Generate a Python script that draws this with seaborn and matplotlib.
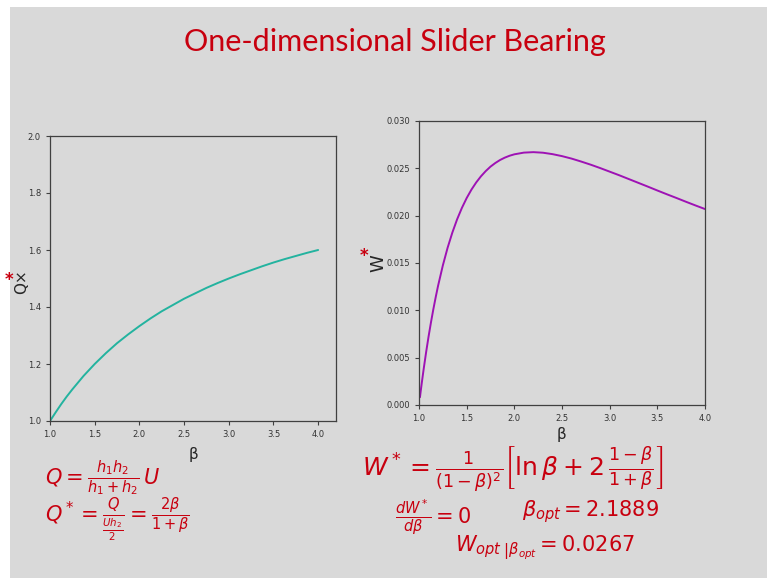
import matplotlib
matplotlib.use("Agg")
import matplotlib.pyplot as plt
import matplotlib.patches as patches
import pandas as pd
import seaborn as sns

# values
beta_q = [1.0, 1.0625, 1.125, 1.1875, 1.25, 1.375, 1.5, 1.625, 1.75, 1.875, 2.0, 2.125, 2.25,
          2.375, 2.5, 2.625, 2.75, 2.875, 3.0, 3.125, 3.25, 3.375, 3.5, 3.625, 3.75, 3.875, 4.0]
q_star = [1.0, 1.030, 1.059, 1.086, 1.111, 1.158, 1.2, 1.238, 1.273, 1.304, 1.333, 1.36, 1.385,
          1.407, 1.429, 1.448, 1.467, 1.484, 1.5, 1.515, 1.529, 1.543, 1.556, 1.568, 1.579,
          1.590, 1.6]

beta_w = [1.01, 1.02, 1.03, 1.04, 1.05, 1.075, 1.1, 1.125, 1.15, 1.175, 1.2, 1.25, 1.3, 1.35,
          1.4, 1.45, 1.5, 1.55, 1.6, 1.65, 1.7, 1.75, 1.8, 1.85, 1.9, 1.95, 2.0, 2.1, 2.2, 2.3,
          2.4, 2.5, 2.6, 2.7, 2.8, 2.9, 3.0, 3.1, 3.2, 3.3, 3.4, 3.5, 3.6, 3.7, 3.8, 3.9, 4.0]
w_star = [0.00082, 0.00162, 0.00239, 0.00314, 0.00387, 0.00560, 0.00721, 0.00870, 0.01009,
          0.01138, 0.01259, 0.01474, 0.01661, 0.01822, 0.01962, 0.02082, 0.02186, 0.02275,
          0.02351, 0.02416, 0.02471, 0.02518, 0.02556, 0.02588, 0.02613, 0.02633, 0.02648,
          0.02666, 0.02671, 0.02665, 0.02650, 0.02629, 0.02603, 0.02572, 0.02539, 0.02503,
          0.02465, 0.02427, 0.02387, 0.02347, 0.02307, 0.02266, 0.02226, 0.02187, 0.02147,
          0.02108, 0.02070]

q_df = pd.DataFrame({"beta": beta_q, "Q": q_star})
w_df = pd.DataFrame({"beta": beta_w, "W": w_star})

sns.set_theme(style="ticks")
plt.rcParams["font.family"] = ["DejaVu Sans"]

W, H = 767, 578
fig = plt.figure(figsize=(W / 100, H / 100), dpi=100, facecolor="white")

# slide background
fig.patches.append(patches.Rectangle((10 / W, 0), 1, 1 - 7 / H, transform=fig.transFigure,
                                     facecolor="#d9d9d9", edgecolor="none", zorder=-10))


def px(x0, y0, x1, y1):
    return [x0 / W, 1 - y1 / H, (x1 - x0) / W, (y1 - y0) / H]


red = "#c8000f"
fig.text(395 / W, 1 - 42 / H, "One-dimensional Slider Bearing", ha="center", va="center",
         fontsize=22, color=red, family="Lato")

ax1 = fig.add_axes(px(50, 136, 336, 421))
ax2 = fig.add_axes(px(419, 121, 705, 405))

sns.lineplot(data=q_df, x="beta", y="Q", ax=ax1, color="#23b39f", linewidth=1.4)
sns.lineplot(data=w_df, x="beta", y="W", ax=ax2, color="#9e12b4", linewidth=1.4)

ax1.set_xlim(1.0, 4.2)
ax1.set_ylim(1.0, 2.0)
ax1.set_xticks([1.0, 1.5, 2.0, 2.5, 3.0, 3.5, 4.0])
ax1.set_yticks([1.0, 1.2, 1.4, 1.6, 1.8, 2.0])
ax2.set_xlim(1.0, 4.0)
ax2.set_ylim(0.0, 0.030)
ax2.set_xticks([1.0, 1.5, 2.0, 2.5, 3.0, 3.5, 4.0])
ax2.set_yticks([0.0, 0.005, 0.010, 0.015, 0.020, 0.025, 0.030])
ax2.yaxis.set_major_formatter(matplotlib.ticker.FormatStrFormatter("%.3f"))

for ax in (ax1, ax2):
    ax.set_facecolor("none")
    for s in ax.spines.values():
        s.set_color("#404040")
        s.set_linewidth(0.9)
    ax.tick_params(labelsize=6, labelcolor="#333333", length=3, width=0.8, color="#404040")

ax1.set_xlabel("β", fontsize=11, labelpad=6)
ax1.set_ylabel("Q×", fontsize=11)
ax1.yaxis.set_label_coords(-0.072, 0.49)
ax2.set_xlabel("β", fontsize=11, labelpad=3)
ax2.set_ylabel("W", fontsize=13)
ax2.yaxis.set_label_coords(-0.112, 0.5)

# red stars scribbled next to the labels
fig.text(9 / W, 1 - 280 / H, "*", color=red, fontsize=12, fontweight="bold",
         ha="center", va="center")
fig.text(364 / W, 1 - 256 / H, "*", color=red, fontsize=12, fontweight="bold",
         ha="center", va="center")

# handwritten notes
hw = dict(color=red, fontsize=15, ha="left", va="center")
fig.text(45 / W, 1 - 478 / H, r"$Q = \frac{h_1 h_2}{h_1 + h_2}\,U$", **hw)
fig.text(45 / W, 1 - 520 / H, r"$Q^* = \frac{Q}{\frac{U h_2}{2}} = \frac{2\beta}{1+\beta}$", **hw)
fig.text(362 / W, 1 - 470 / H,
         r"$W^* = \frac{1}{(1-\beta)^2}\left[\ln\beta + 2\,\frac{1-\beta}{1+\beta}\right]$",
         color=red, fontsize=18, ha="left", va="center")
fig.text(395 / W, 1 - 518 / H, r"$\frac{dW^*}{d\beta} = 0$", **hw)
fig.text(522 / W, 1 - 512 / H, r"$\beta_{opt} = 2.1889$", **hw)
fig.text(455 / W, 1 - 548 / H, r"$W_{opt}\,\left|_{\beta_{opt}}\right. = 0.0267$", **hw)

fig.savefig("out.png", dpi=100, facecolor=fig.get_facecolor())
